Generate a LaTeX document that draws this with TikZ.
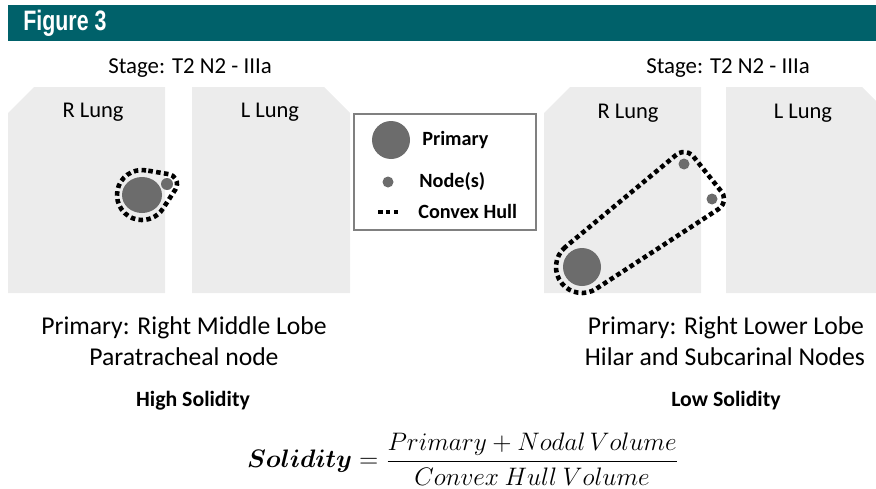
\documentclass[tikz,border=0pt]{standalone}
\usepackage{fontspec}
\usepackage{amsmath}
\usetikzlibrary{calc}
\setmainfont{Carlito}
\newfontfamily\headfont{Liberation Sans}
\definecolor{headteal}{RGB}{0,97,106}
\definecolor{lunggray}{RGB}{236,236,236}
\definecolor{massgray}{RGB}{108,108,108}

\begin{document}
\begin{tikzpicture}[
            x=0.02cm, y=0.02cm,
            lung/.style={fill=lunggray, draw=none},
            mass/.style={fill=massgray, draw=none},
            hull/.style={
                draw=black,
                line width=2.6pt,
                dash pattern=on 2.6pt off 1.9pt
            },
            every node/.style={inner sep=0pt},
            stagetxt/.style={font=\fontsize{13}{15}\selectfont},
            lungtxt/.style={font=\fontsize{12.8}{15}\selectfont},
            capttxt/.style={font=\fontsize{14.6}{17}\selectfont},
            keytxt/.style={font=\fontsize{11.5}{14}\selectfont\bfseries, anchor=west}
        ]
            \useasboundingbox (0,0) rectangle (876,488);

            % header
            \fill[headteal] (8,447) rectangle (876,483);
            \node[anchor=west, text=white, font=\fontsize{16}{18}\selectfont\headfont\bfseries]
                (title) at (23,465) {\scalebox{0.76}[1]{Figure 3}};

            % left case
            \node[stagetxt] (stageL) at (190,420) {Stage: T2 N2 - IIIa};
            \fill[lung] (8,375) -- (34,401) -- (165,401) -- (165,195) -- (8,195) -- cycle;
            \fill[lung] (192,401) -- (324,401) -- (350,375) -- (350,195) -- (192,195) -- cycle;
            \node[lungtxt] (rlungL) at (93,376) {R Lung};
            \node[lungtxt] (llungL) at (270,376) {L Lung};

            \coordinate (pL) at (142,293);
            \coordinate (nL) at (167,304);
            \fill[mass] (pL) ellipse[x radius=20, y radius=18];
            \fill[mass] (nL) circle[radius=6];
            \draw[hull] ($(pL)+(80.45:25)$) arc[start angle=80.45, end angle=327.05, radius=25]
                -- ($(nL)+(-32.95:10)$) arc[start angle=-32.95, end angle=80.45, radius=10] -- cycle;

            \node[capttxt] (primL) at (184,160) {Primary: Right Middle Lobe};
            \node[capttxt] (nodeL) at (184,131) {Paratracheal node};
            \node[font=\fontsize{12.4}{15}\selectfont\bfseries] (solL) at (193,87) {High Solidity};

            % legend
            \draw[gray, line width=0.6pt] (354,374) rectangle (536,258);
            \fill[mass] (391,348) circle[radius=19];
            \node[keytxt] (keyP) at (422,348) {Primary};
            \fill[mass] (388,306) circle[radius=5.5];
            \node[keytxt] (keyN) at (419,306) {Node(s)};
            \draw[hull] (378,276) -- (400,276);
            \node[keytxt] (keyH) at (418,277) {Convex Hull};

            % right case
            \node[stagetxt] (stageR) at (728,420) {Stage: T2 N2 - IIIa};
            \fill[lung] (544,375) -- (570,401) -- (701,401) -- (701,195) -- (544,195) -- cycle;
            \fill[lung] (726,401) -- (862,401) -- (876,387) -- (876,195) -- (726,195) -- cycle;
            \node[lungtxt] (rlungR) at (628,375) {R Lung};
            \node[lungtxt] (llungR) at (803,375) {L Lung};

            \coordinate (pR) at (582,221);
            \coordinate (nR1) at (684,324);
            \coordinate (nR2) at (712,289);
            \fill[mass] (pR) circle[radius=19];
            \fill[mass] (nR1) circle[radius=5.5];
            \fill[mass] (nR2) circle[radius=5.5];
            \draw[hull] ($(pR)+(129.74:26)$) arc[start angle=129.74, end angle=303.09, radius=26]
                -- ($(nR2)+(-56.91:12)$) arc[start angle=-56.91, end angle=38.66, radius=12]
                -- ($(nR1)+(38.66:12)$) arc[start angle=38.66, end angle=129.74, radius=12] -- cycle;

            \node[capttxt] (primR) at (726,160) {Primary: Right Lower Lobe};
            \node[capttxt] (nodeR) at (725,131) {Hilar and Subcarinal Nodes};
            \node[font=\fontsize{12.4}{15}\selectfont\bfseries] (solR) at (726,87) {Low Solidity};

            % formula
            \node[font=\fontsize{14.3}{17}\selectfont] (formula) at (463,29)
                {$\boldsymbol{Solidity} = \dfrac{Primary + Nodal\,Volume}{Convex\ Hull\ Volume}$};
        \end{tikzpicture}
\end{document}
